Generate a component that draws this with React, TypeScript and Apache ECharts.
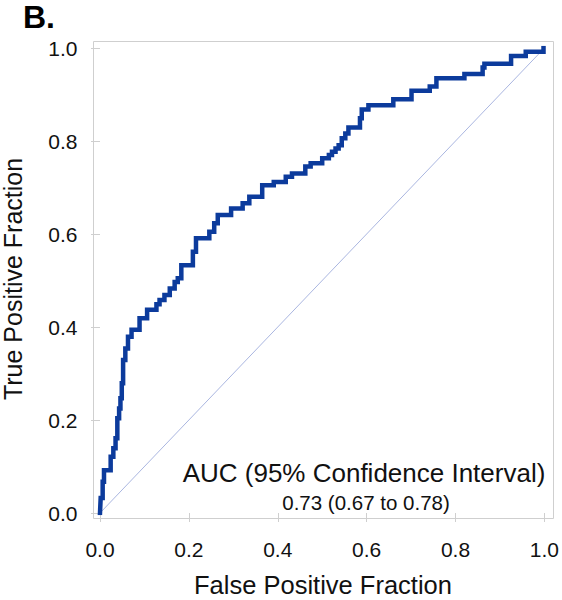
import React, { useEffect, useRef } from "react";
import * as echarts from "echarts";

// ROC curve corner points (top of each rise)
const fpr = [
  0, 0.0015, 0.006, 0.009, 0.024, 0.03, 0.035, 0.039, 0.043, 0.046, 0.049,
  0.052, 0.057, 0.063, 0.071, 0.089, 0.106, 0.127, 0.134, 0.145, 0.157,
  0.168, 0.175, 0.183, 0.209, 0.216, 0.246, 0.257, 0.265, 0.295, 0.321,
  0.336, 0.365, 0.391, 0.418, 0.432, 0.462, 0.474, 0.5, 0.515, 0.522, 0.53,
  0.537, 0.544, 0.552, 0.559, 0.585, 0.589, 0.604, 0.66, 0.701, 0.742,
  0.757, 0.82, 0.861, 0.865, 0.925, 0.958, 0.998,
];
const tpr = [
  0, 0.032, 0.067, 0.092, 0.121, 0.139, 0.161, 0.204, 0.225, 0.247, 0.279,
  0.329, 0.354, 0.379, 0.394, 0.419, 0.437, 0.449, 0.458, 0.469, 0.483,
  0.497, 0.505, 0.533, 0.562, 0.591, 0.605, 0.623, 0.641, 0.655, 0.666,
  0.68, 0.705, 0.712, 0.723, 0.73, 0.745, 0.752, 0.763, 0.77, 0.777, 0.784,
  0.791, 0.806, 0.816, 0.829, 0.849, 0.868, 0.877, 0.89, 0.908, 0.917,
  0.935, 0.944, 0.958, 0.966, 0.983, 0.992, 1.0,
];
const refX = [0, 1];
const refY = [0, 1];
const axisMin = 0;
const axisMax = 1;
const axisStep = 0.2;

const panelLabel = "B.";
const xTitle = "False Positive Fraction";
const yTitle = "True Positive Fraction";
const aucTitle = "AUC (95% Confidence Interval)";
const aucValue = "0.73 (0.67 to 0.78)";

const FONT = "'Liberation Sans', Arial, Helvetica, sans-serif";
const TEXT = "#111111";
const FRAME = "#cfcfcf";

export default function App() {
  const ref = useRef<HTMLDivElement>(null);
  useEffect(() => {
    if (!ref.current) return;
    const chart = echarts.init(ref.current, null, { renderer: "svg" });
    const axisCommon = {
      type: "value" as const,
      min: axisMin,
      max: axisMax,
      interval: axisStep,
      axisLine: { show: false },
      axisTick: { show: true, length: 9, lineStyle: { color: FRAME, width: 1 } },
      splitLine: { show: false },
    };
    chart.setOption({
      animation: false,
      backgroundColor: "#ffffff",
      grid: { left: 100, right: 15, top: 48, bottom: 87, containLabel: false },
      xAxis: {
        ...axisCommon,
        offset: 5.5,
        axisLabel: {
          margin: 20,
          fontSize: 21,
          color: TEXT,
          fontFamily: FONT,
          formatter: (v: number) => v.toFixed(1),
        },
      },
      yAxis: {
        ...axisCommon,
        offset: 6.5,
        axisLabel: {
          margin: 16,
          fontSize: 21,
          color: TEXT,
          fontFamily: FONT,
          formatter: (v: number) => v.toFixed(1),
        },
      },
      series: [
        {
          type: "line",
          data: refX.map((x, i) => [x, refY[i]]),
          symbol: "none",
          lineStyle: { color: "#aab6e0", width: 1 },
          z: 1,
          silent: true,
        },
        {
          type: "line",
          step: "end",
          data: fpr.map((x, i) => [x, tpr[i]]),
          symbol: "none",
          lineStyle: { color: "#0c3b9c", width: 4.5, cap: "square", join: "miter" },
          z: 2,
          silent: true,
        },
      ],
      graphic: [
        {
          type: "rect",
          shape: { x: 93.5, y: 41.5, width: 460, height: 477 },
          style: { fill: "none", stroke: FRAME, lineWidth: 1 },
          silent: true,
          z: 0,
        },
        {
          type: "text",
          x: 23,
          y: 17,
          style: {
            text: panelLabel,
            fontSize: 32,
            fontWeight: "bold",
            fontFamily: FONT,
            fill: "#000",
            align: "left",
            verticalAlign: "middle",
          },
        },
        {
          type: "text",
          x: 12.5,
          y: 279,
          rotation: Math.PI / 2,
          style: {
            text: yTitle,
            fontSize: 25,
            fontFamily: FONT,
            fill: TEXT,
            align: "center",
            verticalAlign: "middle",
          },
        },
        {
          type: "text",
          x: 323,
          y: 585,
          style: {
            text: xTitle,
            fontSize: 25.5,
            fontFamily: FONT,
            fill: TEXT,
            align: "center",
            verticalAlign: "middle",
          },
        },
        {
          type: "text",
          x: 364,
          y: 472.5,
          style: {
            text: aucTitle,
            fontSize: 26,
            fontFamily: FONT,
            fill: TEXT,
            align: "center",
            verticalAlign: "middle",
          },
        },
        {
          type: "text",
          x: 366,
          y: 502,
          style: {
            text: aucValue,
            fontSize: 20.5,
            fontFamily: FONT,
            fill: TEXT,
            align: "center",
            verticalAlign: "middle",
          },
        },
      ],
    });
    return () => chart.dispose();
  }, []);
  return (
    <div
      ref={ref}
      style={{ position: "absolute", left: 0, top: 0, width: 562, height: 600 }}
    />
  );
}
